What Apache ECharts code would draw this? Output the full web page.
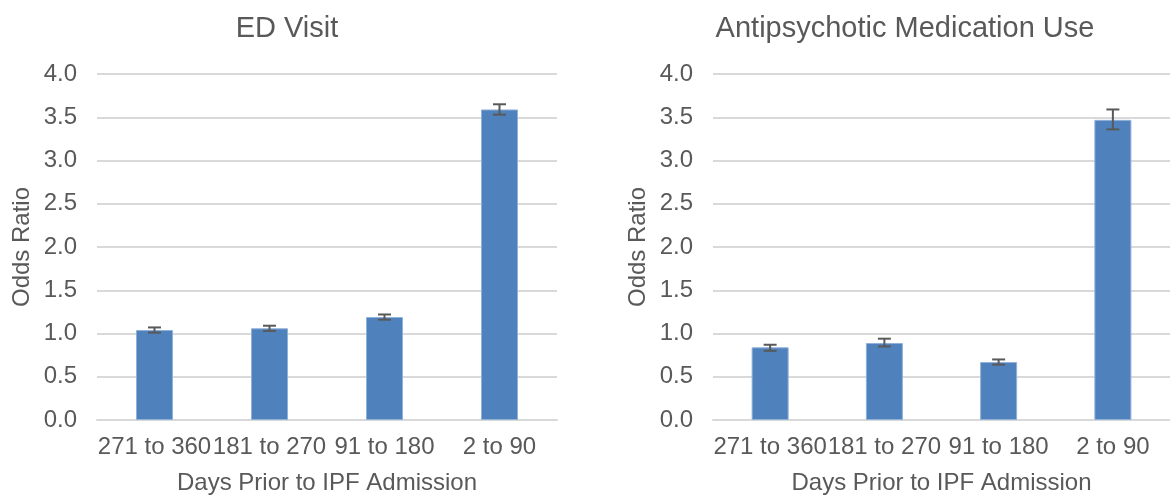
<!DOCTYPE html>
<html>
<head>
<meta charset="utf-8">
<script src="https://cdn.jsdelivr.net/npm/echarts@6/dist/echarts.min.js"></script>
<style>
  html, body { margin: 0; padding: 0; background: #fff; }
  #chart { width: 1170px; height: 500px; }
</style>
</head>
<body>
<div id="chart"></div>
<script>
// Days-prior windows on the x axis
const categories = ['271 to 360', '181 to 270', '91 to 180', '2 to 90'];
const yTicks = [0, 0.5, 1.0, 1.5, 2.0, 2.5, 3.0, 3.5, 4.0];

// ED visit odds ratios with 95% CI
const edOR = [1.04, 1.06, 1.19, 3.59];
const edLow = [1.01, 1.03, 1.16, 3.53];
const edHigh = [1.07, 1.09, 1.22, 3.65];

// Antipsychotic medication use odds ratios with 95% CI
const apOR = [0.84, 0.89, 0.67, 3.47];
const apLow = [0.80, 0.85, 0.64, 3.36];
const apHigh = [0.87, 0.94, 0.70, 3.59];

const TEXT = '#595959';
const GRID = '#d9d9d9';
const BAR = '#4f81bd';
const FONT = 'Liberation Sans, Arial, sans-serif';

function errorSeries(idx, low, high) {
  return {
    type: 'custom',
    xAxisIndex: idx,
    yAxisIndex: idx,
    z: 10,
    data: categories.map((c, i) => [i, low[i], high[i]]),
    renderItem: function (params, api) {
      const lo = api.coord([api.value(0), api.value(1)]);
      const hi = api.coord([api.value(0), api.value(2)]);
      const x = lo[0];
      const cap = 6.5;
      const style = { stroke: TEXT, lineWidth: 2 };
      return {
        type: 'group',
        children: [
          { type: 'line', shape: { x1: x, y1: lo[1], x2: x, y2: hi[1] }, style },
          { type: 'line', shape: { x1: x - cap, y1: lo[1], x2: x + cap, y2: lo[1] }, style },
          { type: 'line', shape: { x1: x - cap, y1: hi[1], x2: x + cap, y2: hi[1] }, style }
        ]
      };
    }
  };
}

function xAxis(idx) {
  return {
    type: 'category',
    gridIndex: idx,
    data: categories,
    name: 'Days Prior to IPF Admission',
    nameLocation: 'middle',
    nameGap: 51,
    nameTextStyle: { color: TEXT, fontSize: 24, fontFamily: FONT },
    axisLine: { lineStyle: { color: GRID, width: 2 } },
    axisTick: { show: false },
    axisLabel: { color: TEXT, fontSize: 24, fontFamily: FONT, margin: 15, interval: 0 }
  };
}

function yAxis(idx) {
  return {
    type: 'value',
    gridIndex: idx,
    min: 0,
    max: 4,
    interval: 0.5,
    name: 'Odds Ratio',
    nameLocation: 'middle',
    nameGap: 63,
    nameTextStyle: { color: TEXT, fontSize: 24, fontFamily: FONT },
    axisLine: { show: false },
    axisTick: { show: false },
    splitLine: { lineStyle: { color: GRID, width: 2 } },
    axisLabel: {
      color: TEXT, fontSize: 24, fontFamily: FONT, margin: 20,
      formatter: v => (yTicks.includes(v) ? v.toFixed(1) : '')
    }
  };
}

function barSeries(idx, values) {
  return {
    type: 'bar',
    xAxisIndex: idx,
    yAxisIndex: idx,
    data: values,
    barWidth: 37,
    itemStyle: { color: BAR, borderColor: '#8fb0d8', borderWidth: 1 }
  };
}

const chart = echarts.init(document.getElementById('chart'), null, { renderer: 'canvas' });
chart.setOption({
  animation: false,
  backgroundColor: '#fff',
  title: [
    { text: 'ED Visit', left: 282, top: 9, textAlign: 'center',
      textStyle: { color: TEXT, fontSize: 29, fontWeight: 'normal', fontFamily: FONT } },
    { text: 'Antipsychotic Medication Use', left: 900, top: 9, textAlign: 'center',
      textStyle: { color: TEXT, fontSize: 29, fontWeight: 'normal', fontFamily: FONT } }
  ],
  grid: [
    { left: 97, top: 74, width: 460, height: 349 },
    { left: 713, top: 74, width: 460, height: 349 }
  ],
  xAxis: [xAxis(0), xAxis(1)],
  yAxis: [yAxis(0), yAxis(1)],
  series: [
    barSeries(0, edOR),
    errorSeries(0, edLow, edHigh),
    barSeries(1, apOR),
    errorSeries(1, apLow, apHigh)
  ]
});
</script>
</body>
</html>
